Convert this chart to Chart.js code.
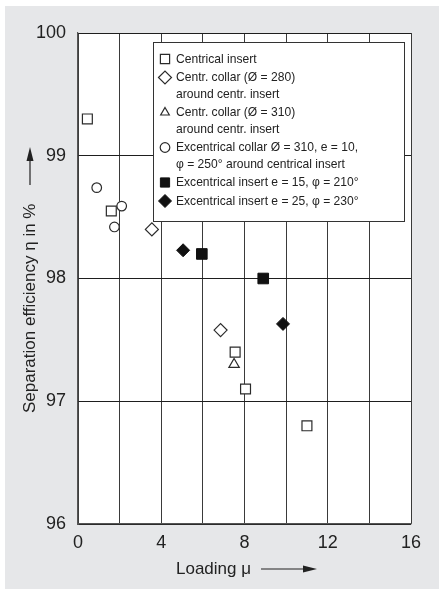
<!DOCTYPE html>
<html>
<head>
<meta charset="utf-8">
<script src="https://cdn.jsdelivr.net/npm/chart.js@4.4.0/dist/chart.umd.min.js"></script>
<style>
html, body { margin: 0; padding: 0; background: #fff; }
</style>
</head>
<body>
<canvas id="myChart" width="439" height="589"></canvas>
<script>
// values (loading mu, separation efficiency in %)
var centricalX = [0.45, 1.6, 7.55, 8.05, 11.0];
var centricalY = [99.3, 98.55, 97.4, 97.1, 96.8];
var collar280X = [3.55, 6.85];
var collar280Y = [98.4, 97.58];
var collar310X = [7.5];
var collar310Y = [97.3];
var excCollarX = [0.9, 1.75, 2.1];
var excCollarY = [98.74, 98.42, 98.59];
var exc15X = [5.95, 8.9];
var exc15Y = [98.2, 98.0];
var exc25X = [5.05, 9.85];
var exc25Y = [98.23, 97.63];

var xTicks = [0, 4, 8, 12, 16];
var yTicks = [96, 97, 98, 99, 100];

var fam = '"Liberation Sans", Arial, Helvetica, sans-serif';

function pts(xs, ys) {
    var out = [];
    for (var i = 0; i < xs.length; i++) out.push({ x: xs[i], y: ys[i] });
    return out;
}

function openSet(label, xs, ys, style, r) {
    return {
        label: label, data: pts(xs, ys), pointStyle: style, pointRadius: r,
        backgroundColor: '#fff', borderColor: '#2b2b2b', borderWidth: 1.2, showLine: false
    };
}
function filledSet(label, xs, ys, style, r) {
    return {
        label: label, data: pts(xs, ys), pointStyle: style, pointRadius: r,
        backgroundColor: '#111', borderColor: '#111', borderWidth: 1, showLine: false
    };
}

var datasets = [
    openSet('Centrical insert', centricalX, centricalY, 'rect', 7),
    openSet('Centr. collar (Ø = 280)\naround centr. insert', collar280X, collar280Y, 'rectRot', 6.5),
    openSet('Centr. collar (Ø = 310)\naround centr. insert', collar310X, collar310Y, 'triangle', 6),
    openSet('Excentrical collar Ø = 310, e = 10,\nφ = 250° around centrical insert', excCollarX, excCollarY, 'circle', 4.8),
    filledSet('Excentrical insert e = 15, φ = 210°', exc15X, exc15Y, 'rect', 7.5),
    filledSet('Excentrical insert e = 25, φ = 230°', exc25X, exc25Y, 'rectRot', 6.5)
];

// grey page and white plot area
var paper = {
    id: 'paper',
    beforeDraw: function (chart) {
        var ctx = chart.ctx, a = chart.chartArea;
        ctx.save();
        ctx.fillStyle = '#fff';
        ctx.fillRect(0, 0, chart.width, chart.height);
        ctx.fillStyle = '#e6e7e9';
        ctx.fillRect(5, 6, chart.width - 5, chart.height - 6);
        ctx.fillStyle = '#fff';
        ctx.fillRect(a.left, a.top, a.right - a.left, a.bottom - a.top);
        ctx.restore();
    }
};

function arrowHead(ctx, x, y, dx, dy) {
    // tip at x,y pointing along dx,dy
    var len = 14, half = 3.5;
    var px = -dy, py = dx;
    ctx.beginPath();
    ctx.moveTo(x, y);
    ctx.lineTo(x - dx * len + px * half, y - dy * len + py * half);
    ctx.lineTo(x - dx * len - px * half, y - dy * len - py * half);
    ctx.closePath();
    ctx.fill();
}

// axis titles with their arrows
var axisTitles = {
    id: 'axisTitles',
    afterDraw: function (chart) {
        var ctx = chart.ctx;
        ctx.save();
        ctx.fillStyle = '#222';
        ctx.strokeStyle = '#222';
        ctx.lineWidth = 1.2;
        ctx.font = '17px ' + fam;
        ctx.textBaseline = 'middle';
        ctx.textAlign = 'left';

        var xt = 'Loading μ';
        ctx.fillText(xt, 176, 569);
        var w = ctx.measureText(xt).width;
        ctx.beginPath();
        ctx.moveTo(176 + w + 10, 569);
        ctx.lineTo(310, 569);
        ctx.stroke();
        arrowHead(ctx, 317, 569, 1, 0);

        var yt = 'Separation efficiency η in %';
        ctx.translate(30, 413);
        ctx.rotate(-Math.PI / 2);
        ctx.fillText(yt, 0, 0, 222);
        ctx.beginPath();
        ctx.moveTo(228, 0);
        ctx.lineTo(260, 0);
        ctx.stroke();
        arrowHead(ctx, 266, 0, 1, 0);
        ctx.restore();
    }
};

// boxed legend inside the plot
var boxLegend = {
    id: 'boxLegend',
    afterDraw: function (chart) {
        var ctx = chart.ctx;
        var left = 153, top = 42, right = 404, bottom = 221;
        ctx.save();
        ctx.fillStyle = '#fff';
        ctx.fillRect(left, top, right - left, bottom - top);
        ctx.strokeStyle = '#333';
        ctx.lineWidth = 1;
        ctx.strokeRect(left + 0.5, top + 0.5, right - left, bottom - top);

        ctx.font = '13px ' + fam;
        ctx.textBaseline = 'middle';
        ctx.fillStyle = '#222';
        var k = 182 / ctx.measureText('Excentrical collar Ø = 310, e = 10,').width;

        var yy = 59;
        chart.data.datasets.forEach(function (ds, i) {
            if (i > 0) yy += 18.5;
            var r = ds.pointRadius;
            if (ds.pointStyle === 'triangle') r = 5;
            if (ds.pointStyle === 'rect') r = 6.5;
            ctx.save();
            ctx.fillStyle = ds.backgroundColor;
            ctx.strokeStyle = ds.borderColor;
            ctx.lineWidth = ds.borderWidth;
            Chart.helpers.drawPoint(ctx, { pointStyle: ds.pointStyle, radius: r, rotation: 0, borderWidth: ds.borderWidth }, 165, yy);
            ctx.restore();
            var lines = ds.label.split('\n');
            lines.forEach(function (ln, j) {
                if (j > 0) yy += 16.5;
                ctx.save();
                ctx.translate(176, yy);
                ctx.scale(k, 1);
                ctx.fillStyle = '#222';
                ctx.fillText(ln, 0, 0);
                ctx.restore();
            });
        });
        ctx.restore();
    }
};

new Chart('myChart', {
    type: 'scatter',
    data: { datasets: datasets },
    plugins: [paper, boxLegend, axisTitles],
    options: {
        responsive: false,
        animation: false,
        layout: { padding: { top: 33, right: 28, bottom: 0, left: 0 } },
        plugins: { legend: { display: false }, tooltip: { enabled: false } },
        scales: {
            x: {
                type: 'linear', min: 0, max: 16,
                afterBuildTicks: function (s) {
                    var t = [];
                    for (var v = 0; v <= 16; v += 2) t.push({ value: v });
                    s.ticks = t;
                },
                ticks: {
                    autoSkip: false, maxRotation: 0, padding: 8, color: '#222',
                    font: { family: fam, size: 18 },
                    callback: function (v) { return xTicks.indexOf(v) >= 0 ? String(v) : ''; }
                },
                grid: { color: '#3a3a3a', lineWidth: 1, drawTicks: false },
                border: { color: '#555', width: 1.2 },
                afterFit: function (s) { s.height = 65; }
            },
            y: {
                type: 'linear', min: 96, max: 100,
                afterBuildTicks: function (s) {
                    s.ticks = yTicks.map(function (v) { return { value: v }; });
                },
                ticks: {
                    padding: 12, color: '#222',
                    font: { family: fam, size: 18 }
                },
                grid: { color: '#1e1e1e', lineWidth: 1, drawTicks: false },
                border: { color: '#555', width: 1.2 },
                afterFit: function (s) { s.width = 78; }
            }
        }
    }
});
</script>
</body>
</html>
